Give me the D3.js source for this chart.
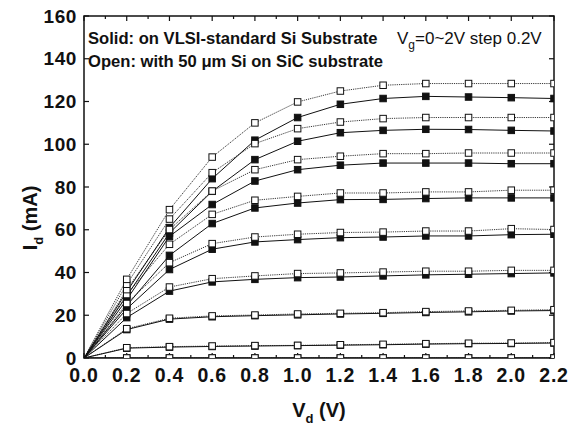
<!DOCTYPE html>
<html>
  <head>
    <meta charset="utf-8" />
    <title>Id - Vd characteristics</title>
    <script src="https://d3js.org/d3.v7.min.js"></script>
    <style>
      body {
        margin: 0;
        background: #fff;
      }
      svg text {
        font-family: "Liberation Sans", Arial, Helvetica, sans-serif;
        fill: #111;
      }
    </style>
  </head>
  <body>
    <div id="chart"></div>
    <script>
      // drain voltage points (V)
      var vd = [0, 0.2, 0.4, 0.6, 0.8, 1.0, 1.2, 1.4, 1.6, 1.8, 2.0, 2.2];

      // solid: on VLSI-standard Si substrate (mA), one row per Vg
      var solidCurves = [
        [0, 0, 0, 0, 0, 0, 0, 0, 0, 0, 0, 0],
        [0, 4.6, 5.1, 5.4, 5.6, 5.8, 6.0, 6.2, 6.5, 6.7, 6.8, 7.0],
        [0, 13.3, 18.2, 19.3, 19.8, 20.2, 20.6, 20.9, 21.3, 21.6, 22.0, 22.2],
        [0, 18.9, 31.3, 35.6, 36.8, 37.6, 37.9, 38.4, 38.9, 39.2, 39.5, 39.8],
        [0, 23.0, 41.4, 50.9, 54.3, 55.4, 56.3, 56.6, 57.1, 57.1, 57.7, 57.9],
        [0, 24.5, 48.0, 62.9, 70.2, 72.5, 74.1, 74.2, 74.6, 74.9, 74.9, 74.9],
        [0, 27.3, 56.9, 71.8, 82.8, 88.1, 90.2, 91.2, 91.2, 91.2, 90.9, 90.9],
        [0, 29.0, 58.5, 78.0, 92.8, 101.4, 105.4, 106.5, 107.0, 106.9, 106.5, 106.2],
        [0, 31.0, 61.0, 83.9, 101.9, 112.5, 118.7, 121.4, 122.4, 122.1, 121.8, 121.4]
      ];

      // open: with 50 um Si on SiC substrate (mA), one row per Vg
      var openCurves = [
        [0, 0, 0, 0, 0, 0, 0, 0, 0, 0, 0, 0],
        [0, 4.8, 5.3, 5.6, 5.8, 5.9, 6.2, 6.4, 6.7, 6.9, 7.0, 7.2],
        [0, 13.7, 18.6, 19.7, 20.1, 20.6, 20.9, 21.2, 21.7, 22.0, 22.3, 22.6],
        [0, 20.8, 33.2, 37.1, 38.4, 39.5, 39.8, 40.2, 40.6, 40.6, 41.0, 41.0],
        [0, 25.5, 44.6, 53.5, 56.6, 57.9, 58.7, 58.9, 59.4, 59.4, 60.5, 60.1],
        [0, 29.7, 53.2, 67.2, 73.8, 75.6, 77.2, 77.2, 77.7, 77.7, 78.5, 78.5],
        [0, 32.0, 60.1, 78.1, 88.1, 92.8, 94.4, 95.6, 95.6, 95.9, 95.9, 95.9],
        [0, 34.5, 65.0, 86.7, 100.3, 107.3, 110.4, 112.0, 112.5, 112.5, 112.5, 112.5],
        [0, 36.8, 69.4, 94.0, 110.0, 119.8, 124.9, 127.6, 128.4, 128.4, 128.4, 128.4]
      ];

      // axis ticks
      var xTicks = [0, 0.2, 0.4, 0.6, 0.8, 1.0, 1.2, 1.4, 1.6, 1.8, 2.0, 2.2];
      var xTickLabels = ["0.0", "0.2", "0.4", "0.6", "0.8", "1.0", "1.2", "1.4", "1.6", "1.8", "2.0", "2.2"];
      var xMinorTicks = [0.1, 0.3, 0.5, 0.7, 0.9, 1.1, 1.3, 1.5, 1.7, 1.9, 2.1];
      var yTicks = [0, 20, 40, 60, 80, 100, 120, 140, 160];

      var width = 568;
      var height = 430;
      var margin = { top: 16, right: 14, bottom: 72, left: 84 };
      var plotW = width - margin.left - margin.right;
      var plotH = height - margin.top - margin.bottom;

      var svg = d3
        .select("#chart")
        .append("svg")
        .attr("width", width)
        .attr("height", height);

      var x = d3.scaleLinear().domain([0, 2.2]).range([0, plotW]);
      var y = d3.scaleLinear().domain([0, 160]).range([plotH, 0]);

      var g = svg
        .append("g")
        .attr("transform", "translate(" + margin.left + "," + margin.top + ")");

      svg
        .append("defs")
        .append("clipPath")
        .attr("id", "plot-clip")
        .append("rect")
        .attr("x", margin.left)
        .attr("y", margin.top)
        .attr("width", plotW)
        .attr("height", plotH);

      var plot = svg
        .append("g")
        .attr("clip-path", "url(#plot-clip)")
        .append("g")
        .attr("transform", "translate(" + margin.left + "," + margin.top + ")");

      var line = d3
        .line()
        .x(function (d, i) {
          return x(vd[i]);
        })
        .y(function (d) {
          return y(d);
        });

      // lines first: open dotted, solid full
      plot
        .selectAll(".open-line")
        .data(openCurves)
        .enter()
        .append("path")
        .attr("class", "open-line")
        .attr("d", line)
        .attr("fill", "none")
        .attr("stroke", "#222")
        .attr("stroke-width", 0.9)
        .attr("stroke-dasharray", "1.2,1");

      plot
        .selectAll(".solid-line")
        .data(solidCurves)
        .enter()
        .append("path")
        .attr("class", "solid-line")
        .attr("d", line)
        .attr("fill", "none")
        .attr("stroke", "#111")
        .attr("stroke-width", 1);

      var ms = 6.5;

      // markers
      function drawMarkers(curves, fill, cls) {
        curves.forEach(function (curve) {
          plot
            .selectAll(null)
            .data(curve.slice(1))
            .enter()
            .append("rect")
            .attr("class", cls)
            .attr("x", function (d, i) {
              return x(vd[i + 1]) - ms / 2;
            })
            .attr("y", function (d) {
              return y(d) - ms / 2;
            })
            .attr("width", ms)
            .attr("height", ms)
            .attr("fill", fill)
            .attr("stroke", "#111")
            .attr("stroke-width", 1);
        });
      }
      drawMarkers(solidCurves, "#111", "solid-pt");
      drawMarkers(openCurves, "#fff", "open-pt");

      // frame
      g.append("rect")
        .attr("width", plotW)
        .attr("height", plotH)
        .attr("fill", "none")
        .attr("stroke", "#111")
        .attr("stroke-width", 1.5);

      // ticks, inward on all four sides
      function tickLines(vals, len, horizontal) {
        vals.forEach(function (v) {
          if (horizontal) {
            g.append("line")
              .attr("x1", x(v)).attr("x2", x(v))
              .attr("y1", plotH).attr("y2", plotH - len)
              .attr("stroke", "#111").attr("stroke-width", 1.2);
            g.append("line")
              .attr("x1", x(v)).attr("x2", x(v))
              .attr("y1", 0).attr("y2", len)
              .attr("stroke", "#111").attr("stroke-width", 1.2);
          } else {
            g.append("line")
              .attr("x1", 0).attr("x2", len)
              .attr("y1", y(v)).attr("y2", y(v))
              .attr("stroke", "#111").attr("stroke-width", 1.2);
            g.append("line")
              .attr("x1", plotW).attr("x2", plotW - len)
              .attr("y1", y(v)).attr("y2", y(v))
              .attr("stroke", "#111").attr("stroke-width", 1.2);
          }
        });
      }
      tickLines(xTicks, 5, true);
      tickLines(xMinorTicks, 3, true);
      tickLines(yTicks, 5, false);

      // tick labels
      g.selectAll(".xlab")
        .data(xTicks)
        .enter()
        .append("text")
        .attr("x", function (d) {
          return x(d);
        })
        .attr("y", plotH + 24)
        .attr("text-anchor", "middle")
        .attr("font-size", 19.5)
        .attr("font-weight", "bold")
        .attr("letter-spacing", 0.8)
        .text(function (d, i) {
          return xTickLabels[i];
        });

      g.selectAll(".ylab")
        .data(yTicks)
        .enter()
        .append("text")
        .attr("x", -7)
        .attr("y", function (d) {
          return y(d) + 6.5;
        })
        .attr("text-anchor", "end")
        .attr("font-size", 19)
        .attr("font-weight", "bold")
        .attr("letter-spacing", 0.6)
        .text(function (d) {
          return d;
        });

      // axis titles
      var xt = svg
        .append("text")
        .attr("x", margin.left + plotW / 2)
        .attr("y", 417)
        .attr("text-anchor", "middle")
        .attr("font-size", 20)
        .attr("font-weight", "bold");
      xt.append("tspan").text("V");
      xt.append("tspan").attr("dy", 6).attr("font-size", 13).text("d");
      xt.append("tspan").attr("dy", -6).text(" (V)");

      var yt = svg
        .append("text")
        .attr("transform", "translate(37,218) rotate(-90)")
        .attr("text-anchor", "middle")
        .attr("font-size", 20)
        .attr("font-weight", "bold");
      yt.append("tspan").text("I");
      yt.append("tspan").attr("dy", 6).attr("font-size", 13).text("d");
      yt.append("tspan").attr("dy", -6).text(" (mA)");

      // legend notes
      svg
        .append("text")
        .attr("x", 88)
        .attr("y", 43.5)
        .attr("font-size", 16.6)
        .attr("font-weight", "bold")
        .text("Solid: on VLSI-standard Si Substrate");
      svg
        .append("text")
        .attr("x", 88)
        .attr("y", 66.5)
        .attr("font-size", 16.6)
        .attr("font-weight", "bold")
        .text("Open: with 50 \u03bcm Si on SiC substrate");

      var vg = svg
        .append("text")
        .attr("x", 397)
        .attr("y", 43.5)
        .attr("font-size", 17);
      vg.append("tspan").text("V");
      vg.append("tspan").attr("dy", 5).attr("font-size", 12).text("g");
      vg.append("tspan").attr("dy", -5).text("=0~2V step 0.2V");
    </script>
  </body>
</html>
